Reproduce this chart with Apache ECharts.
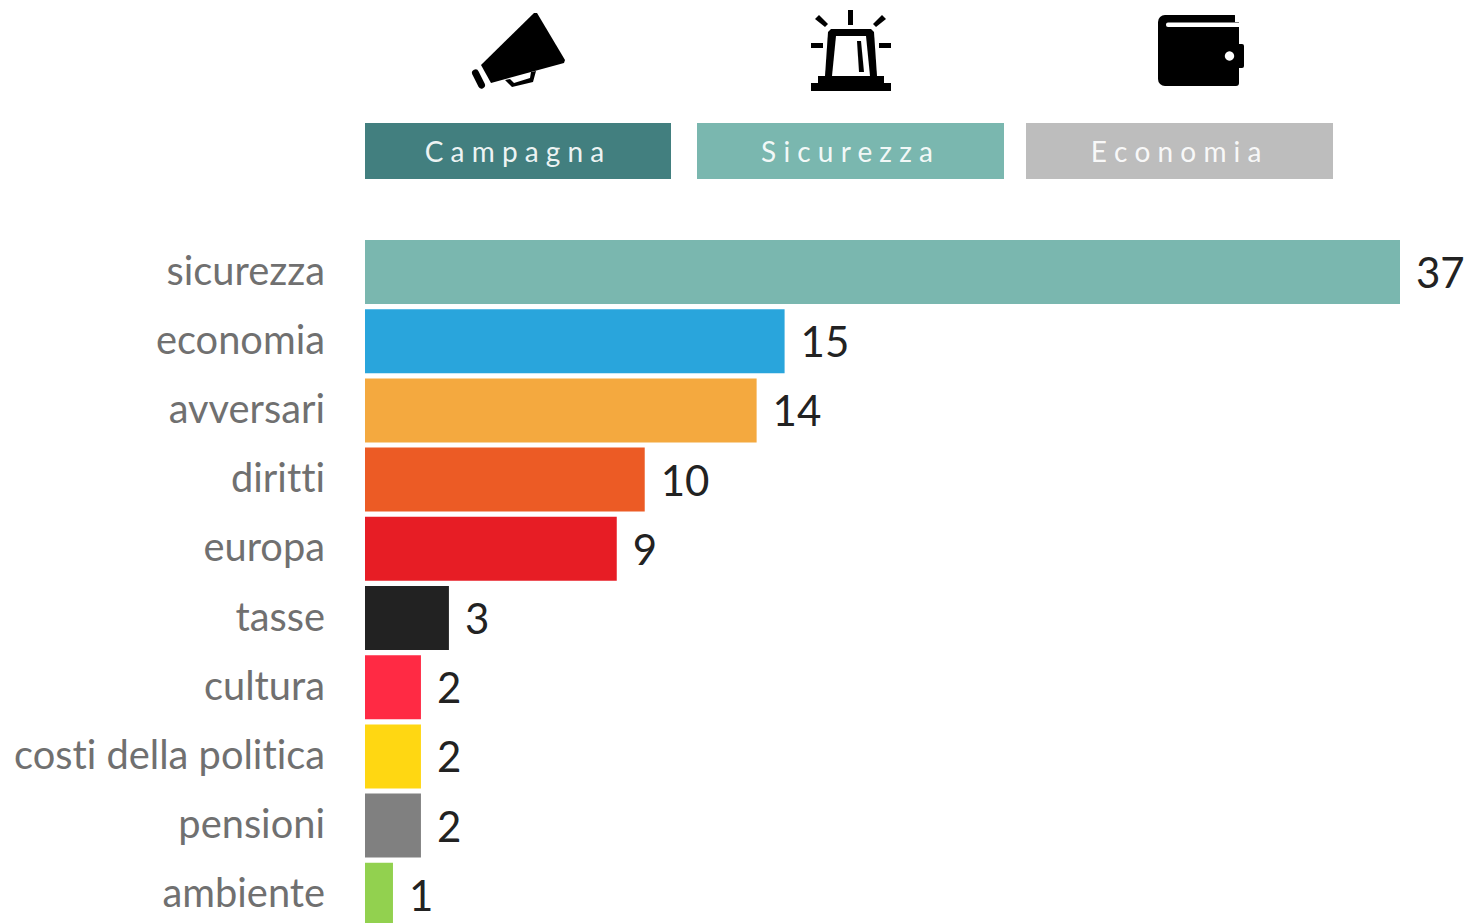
<!DOCTYPE html>
<html>
<head>
<meta charset="utf-8">
<title>Temi in campagna</title>
<script src="https://cdn.jsdelivr.net/npm/echarts@6/dist/echarts.min.js"></script>
<style>
  html, body { margin: 0; padding: 0; background: #fff; }
  #chart { width: 1468px; height: 923px; }
  /* Lato unisce "ti": qui le lettere restano separate */
  #chart text { font-variant-ligatures: none; }
</style>
</head>
<body>
<div id="chart"></div>
<script>
// dati
const categories = ["sicurezza", "economia", "avversari", "diritti", "europa", "tasse", "cultura", "costi della politica", "pensioni", "ambiente"];
const values = [37, 15, 14, 10, 9, 3, 2, 2, 2, 1];
const barColors = ["#7AB7AF", "#29A5DC", "#F4A93F", "#EC5B25", "#E71D25", "#222222", "#FF2A44", "#FFD712", "#808080", "#92D14F"];
const bannerLabels = ["C a m p a g n a", "S i c u r e z z a", "E c o n o m i a"];
const bannerColors = ["#427F7F", "#7AB7AF", "#BDBDBD"];

const FONT = "Lato, Carlito, sans-serif";
const chart = echarts.init(document.getElementById("chart"), null, { renderer: "svg" });

// Fasce colorate sopra il grafico
function banner(i, x, w, textX) {
  return [
    { type: "rect", shape: { x: x, y: 123, width: w, height: 56 }, style: { fill: bannerColors[i] } },
    {
      type: "text", x: textX, y: 151,
      style: { text: bannerLabels[i], fill: "rgba(255,255,255,0.92)", font: "28px " + FONT, align: "center", verticalAlign: "middle" },
    },
  ];
}

function poly(points, fill) {
  return { type: "polygon", shape: { points: points }, style: { fill: fill || "#000" } };
}

// Icona megafono
const megaphone = [
  poly([[534, 13], [537, 13], [565, 60], [564, 63], [491, 83], [481, 65]]),
  { type: "line", shape: { x1: 475.5, y1: 73, x2: 481.5, y2: 85 }, style: { stroke: "#000", lineWidth: 7, lineCap: "round" } },
  poly([[505, 80], [512, 87], [533, 82], [536, 71], [531, 72], [530, 78], [514, 83], [510, 79]]),
];

// Icona sirena
const siren = [
  poly([[848, 10], [853, 10], [853, 25], [848, 25]]),
  poly([[819, 15], [828, 24], [825, 27], [815, 19]]),
  poly([[882, 15], [886, 19], [876, 27], [873, 24]]),
  poly([[811, 43], [823, 43], [823, 48], [811, 48]]),
  poly([[879, 43], [891, 43], [891, 48], [879, 48]]),
  poly([[831, 29], [871, 29], [874, 32], [877, 76], [825, 76], [828, 32]]),
  poly([[836, 36], [866, 36], [870, 76], [832, 76]], "#fff"),
  poly([[857, 41], [861, 41], [864, 72], [859, 72]]),
  poly([[818, 76], [884, 76], [884, 83], [818, 83]]),
  poly([[811, 83], [891, 83], [891, 91], [811, 91]]),
];

// Icona portafoglio
const wallet = [
  { type: "rect", shape: { x: 1158, y: 15, width: 81, height: 71, r: [7, 5, 3, 7] }, style: { fill: "#000" } },
  { type: "rect", shape: { x: 1237, y: 44, width: 7, height: 24, r: 2 }, style: { fill: "#000" } },
  { type: "rect", shape: { x: 1166, y: 22.5, width: 74, height: 4.5, r: [2, 0, 0, 2] }, style: { fill: "#fff" } },
  { type: "rect", shape: { x: 1235, y: 14, width: 6, height: 8 }, style: { fill: "#fff" } },
  { type: "circle", shape: { cx: 1229.5, cy: 56, r: 4.7 }, style: { fill: "#fff" } },
];

const option = {
  animation: false,
  backgroundColor: "#fff",
  // l'ultima barra esce dal riquadro in basso, come nell'originale
  grid: { left: 365, top: 237.4, right: 68, bottom: -6.4, outerBoundsMode: "none" },
  xAxis: { type: "value", min: 0, max: 37, show: false },
  yAxis: {
    type: "category",
    inverse: true,
    data: categories,
    axisLine: { show: false },
    axisTick: { show: false },
    axisLabel: { color: "#707070", fontFamily: FONT, fontSize: 39.8, margin: 40, verticalAlign: "bottom", lineHeight: 6 },
  },
  series: [
    {
      type: "bar",
      barWidth: 64,
      data: values.map((v, i) => ({ value: v, itemStyle: { color: barColors[i] } })),
      label: { show: true, position: "right", distance: 16, color: "#222", fontFamily: FONT, fontSize: 42 },
    },
  ],
  graphic: { elements: [
    ...banner(0, 365, 306, 514.5),
    ...banner(1, 697, 307, 847),
    ...banner(2, 1026, 307, 1176),
    ...megaphone,
    ...siren,
    ...wallet,
  ] },
};

chart.setOption(option);
</script>
</body>
</html>
